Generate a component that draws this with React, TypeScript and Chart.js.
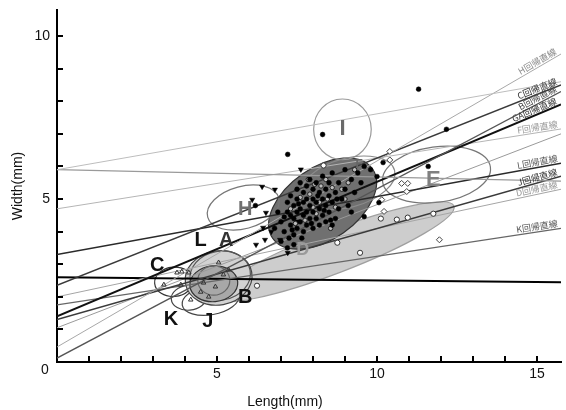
import React, { useEffect, useRef } from 'react';
import { Chart, registerables } from 'chart.js';
Chart.register(...registerables);

// ---- axes ----
const X_MAX = 15.75;
const Y_MAX = 10.8;
const xTickValues = [0, 1, 2, 3, 4, 5, 6, 7, 8, 9, 10, 11, 12, 13, 14, 15];
const yTickValues = [0, 1, 2, 3, 4, 5, 6, 7, 8, 9, 10];
const xLabelTicks = [5, 10, 15];
const yLabelTicks = [5, 10];
const xTitle = 'Length(mm)';
const yTitle = 'Width(mm)';

// ---- regression lines (y at x=0 and at x=X_MAX) ----
const lineNames = ['I', 'E', 'H', 'C', 'B', 'GA', 'F', 'L', 'J', 'D', 'K', 'A', 'M'];
const lineStartY = [5.9, 5.9, 0.46, 2.35, 0.12, 1.4, 4.7, 3.3, 1.3, 2.0, 1.75, 2.6, 1.05];
const lineEndY = [8.6, 5.55, 9.45, 8.5, 8.3, 7.9, 7.15, 6.1, 5.7, 5.3, 4.1, 2.45, 7.0];
const lineLabels = ['', '', 'H回帰直線', 'C回帰直線', 'B回帰直線', 'GA回帰直線', 'F回帰直線', 'L回帰直線', 'J回帰直線', 'D回帰直線', 'K回帰直線', '', ''];
// styles
const lineColors = ['#bdbdbd', '#9a9a9a', '#a8a8a8', '#3a3a3a', '#555555', '#111111', '#b5b5b5', '#2a2a2a', '#3a3a3a', '#a5a5a5', '#666666', '#000000', '#9a9a9a'];
const lineWidths = [1, 1.2, 1, 1.5, 1.3, 2, 1, 1.5, 1.5, 1, 1.2, 2, 1];
const lineLabelColors = ['', '', '#888', '#333', '#444', '#333', '#999', '#555', '#333', '#999', '#555', '', ''];

// ---- ellipses (data units) ----
const ellipseCx = [8.67, 8.3, 8.92, 9.1, 11.86, 5.82, 3.65, 4.12, 4.8, 5.05, 5.1, 4.9, 4.9];
const ellipseCy = [3.38, 4.86, 7.14, 5.5, 5.75, 4.74, 2.46, 1.97, 1.9, 2.58, 2.65, 2.4, 2.5];
const ellipseA = [4.0, 1.9, 0.9, 1.5, 1.7, 1.15, 0.6, 0.55, 0.9, 1.05, 0.95, 0.75, 0.5];
const ellipseB = [0.65, 1.1, 0.93, 0.75, 0.85, 0.65, 0.45, 0.38, 0.45, 0.83, 0.75, 0.55, 0.45];
const ellipseAngle = [21, 35, 0, 15, 8, 15, 5, 5, 10, 10, 10, 5, 0];
// styles
const ellipseFill = ['#cdcdcd', '#707070', '', '', '', '', '', '', '', '#d2d2d2', '', '#a8a8a8', ''];
const ellipseStroke = ['#a0a0a0', '#333333', '#9a9a9a', '#8a8a8a', '#777777', '#777777', '#333333', '#444444', '#444444', '#444444', '#555555', '#333333', '#666666'];

// ---- points ----
const groupG = [
  [7.0, 4.3], [7.1, 4.0], [7.2, 4.6], [7.2, 4.9], [7.3, 4.2], [7.3, 4.5], [7.3, 5.1], [7.4, 3.9], [7.4, 4.4],
  [7.4, 4.8], [7.5, 4.1], [7.5, 4.6], [7.5, 5.0], [7.5, 5.3], [7.6, 4.3], [7.6, 4.7], [7.6, 5.5], [7.7, 4.0],
  [7.7, 4.5], [7.7, 4.9], [7.7, 5.2], [7.8, 4.2], [7.8, 4.6], [7.8, 5.0], [7.8, 5.4], [7.9, 4.4], [7.9, 4.8],
  [7.9, 5.6], [8.0, 4.1], [8.0, 4.6], [8.0, 5.0], [8.0, 5.3], [8.1, 4.4], [8.1, 4.9], [8.1, 5.5], [8.2, 4.2],
  [8.2, 4.7], [8.2, 5.2], [8.3, 4.5], [8.3, 5.0], [8.3, 5.7], [8.4, 4.3], [8.4, 4.8], [8.4, 5.3], [8.5, 4.6],
  [8.5, 5.1], [8.5, 5.5], [8.6, 4.9], [8.6, 5.8], [8.7, 4.4], [8.7, 5.2], [8.8, 4.7], [8.8, 5.5], [8.9, 5.0],
  [9.0, 5.3], [9.0, 5.9], [9.1, 4.8], [9.2, 5.6], [9.3, 5.2], [9.4, 5.8], [9.5, 5.5], [9.6, 6.0], [9.2, 4.6],
  [7.0, 3.7], [7.2, 3.5], [7.4, 3.6], [6.9, 4.6], [6.8, 4.1], [8.6, 4.2], [9.8, 5.9], [7.1, 4.45], [7.35, 4.05],
  [7.55, 4.85], [7.65, 3.8], [7.95, 4.25], [8.15, 5.1], [8.35, 4.65], [8.55, 4.35], [8.75, 5.0], [7.25, 3.8],
  [11.3, 8.37], [12.17, 7.14], [7.21, 6.37], [8.3, 6.98], [10.19, 6.12], [11.6, 6.0], [10.0, 5.69], [9.6, 4.46],
  [10.06, 4.89], [6.2, 4.8]
];
const groupGOpen = [
  [7.6, 5.05], [7.9, 5.15], [8.1, 4.55], [8.25, 5.4], [8.45, 5.0], [8.6, 5.35], [8.0, 4.75], [7.75, 4.35],
  [8.4, 5.6], [8.9, 5.3], [7.45, 4.25], [8.7, 4.75], [9.1, 5.5], [7.85, 5.6], [8.2, 4.9], [9.3, 5.9],
  [7.3, 4.7], [8.55, 4.1], [9.0, 5.0], [8.05, 5.45]
];
const groupH = [
  [6.41, 5.38], [6.81, 5.29], [6.1, 4.98], [7.62, 5.91], [6.53, 4.58], [6.44, 4.12], [6.5, 3.75],
  [6.97, 3.75], [7.21, 3.35], [6.22, 3.6], [7.52, 4.31], [6.7, 4.0]
];
const groupD = [
  [8.76, 3.66], [9.47, 3.35], [10.12, 4.4], [10.62, 4.37], [10.96, 4.43], [11.76, 4.55], [6.25, 2.34],
  [8.33, 6.03]
];
const groupE = [
  [10.4, 6.46], [10.4, 6.2], [10.77, 5.48], [10.93, 5.23], [10.96, 5.48], [10.22, 4.62], [10.15, 4.98],
  [11.95, 3.75]
];
const groupA = [
  [5.05, 3.05], [3.75, 2.74], [3.9, 2.77], [4.12, 2.74], [3.34, 2.37], [3.87, 2.37], [4.58, 2.43],
  [4.95, 2.31], [4.49, 2.15], [4.18, 1.91], [4.74, 2.0], [5.2, 2.68], [5.36, 2.83]
];

// ---- group letters ----
const letterText = ['I', 'E', 'H', 'L', 'A', 'C', 'K', 'J', 'B', 'D', 'F'];
const letterX = [8.92, 11.76, 5.88, 4.49, 5.29, 3.13, 3.56, 4.71, 5.88, 7.68, 9.44];
const letterY = [7.14, 5.6, 4.68, 3.72, 3.72, 2.95, 1.29, 1.23, 1.97, 3.45, 6.06];
// styles
const letterColors = ['#6a6a6a', '#808080', '#707070', '#111', '#333', '#111', '#111', '#111', '#111', '#9a9a9a', '#666'];
const letterSizes = [22, 22, 20, 20, 20, 20, 20, 20, 20, 18, 12];

const FONT = '"Liberation Sans", Arial, sans-serif';

const toXY = (arr: number[][]) => arr.map(p => ({ x: p[0], y: p[1] }));

const ellipsePlugin = {
  id: 'ellipses',
  beforeDatasetsDraw(chart: any) {
    const { ctx, chartArea, scales } = chart;
    const x = scales.x, y = scales.y;
    ctx.save();
    ctx.beginPath();
    ctx.rect(chartArea.left, chartArea.top, chartArea.width, chartArea.height);
    ctx.clip();
    for (let i = 0; i < ellipseCx.length; i++) {
      const cx = x.getPixelForValue(ellipseCx[i]);
      const cy = y.getPixelForValue(ellipseCy[i]);
      const rx = Math.abs(x.getPixelForValue(ellipseCx[i] + ellipseA[i]) - cx);
      const ry = Math.abs(y.getPixelForValue(ellipseCy[i] + ellipseB[i]) - cy);
      ctx.beginPath();
      ctx.ellipse(cx, cy, rx, ry, -ellipseAngle[i] * Math.PI / 180, 0, Math.PI * 2);
      if (ellipseFill[i]) {
        ctx.fillStyle = ellipseFill[i];
        ctx.fill();
      }
      ctx.lineWidth = 1.2;
      ctx.strokeStyle = ellipseStroke[i];
      ctx.stroke();
    }
    ctx.restore();
  },
};

const annotPlugin = {
  id: 'annot',
  afterDatasetsDraw(chart: any) {
    const { ctx, scales } = chart;
    const x = scales.x, y = scales.y;
    ctx.save();
    ctx.textAlign = 'center';
    ctx.textBaseline = 'middle';
    for (let i = 0; i < letterText.length; i++) {
      ctx.font = `bold ${letterSizes[i]}px ${FONT}`;
      ctx.fillStyle = letterColors[i];
      ctx.fillText(letterText[i], x.getPixelForValue(letterX[i]), y.getPixelForValue(letterY[i]));
    }
    ctx.font = `9px "Noto Sans CJK JP", sans-serif`;
    for (let i = 0; i < lineNames.length; i++) {
      if (!lineLabels[i]) continue;
      const xe = X_MAX - 0.08;
      const ye = lineStartY[i] + (lineEndY[i] - lineStartY[i]) * xe / X_MAX;
      const px = x.getPixelForValue(xe), py = y.getPixelForValue(ye);
      const px0 = x.getPixelForValue(0), py0 = y.getPixelForValue(lineStartY[i]);
      const ang = Math.atan2(py - py0, px - px0);
      ctx.save();
      ctx.translate(px, py);
      ctx.rotate(ang);
      ctx.textAlign = 'right';
      ctx.textBaseline = 'bottom';
      ctx.fillStyle = lineLabelColors[i];
      ctx.fillText(lineLabels[i], 0, -1);
      ctx.restore();
    }
    // inward tick marks
    ctx.fillStyle = '#000000';
    const bottom = y.getPixelForValue(0);
    const left = x.getPixelForValue(0);
    xTickValues.forEach(v => {
      if (v === 0) return;
      const px = Math.round(x.getPixelForValue(v));
      ctx.fillRect(px - 1, bottom - 6, 2, 6);
    });
    yTickValues.forEach(v => {
      if (v === 0) return;
      const py = Math.round(y.getPixelForValue(v));
      ctx.fillRect(left, py - 1, 6, 2);
    });
    ctx.restore();
  },
  afterDraw(chart: any) {
    const { ctx, chartArea } = chart;
    ctx.save();
    ctx.fillStyle = '#111';
    ctx.font = `14px ${FONT}`;
    ctx.textAlign = 'center';
    ctx.textBaseline = 'middle';
    ctx.fillText('0', chartArea.left - 12, chartArea.bottom + 8);
    ctx.fillText(xTitle, 285, chartArea.bottom + 40);
    ctx.restore();
  },
};

export default function App() {
  const ref = useRef<HTMLCanvasElement>(null);
  useEffect(() => {
    if (!ref.current) return;
    const lineSets = lineNames.map((n, i) => ({
      type: 'line' as const,
      label: n,
      data: [{ x: 0, y: lineStartY[i] }, { x: X_MAX, y: lineEndY[i] }],
      showLine: true,
      pointRadius: 0,
      borderColor: lineColors[i],
      borderWidth: lineWidths[i],
      fill: false,
      order: 5,
    }));
    const pointSets = [
      { label: 'G', data: toXY(groupG), pointStyle: 'circle', pointRadius: 2.4, backgroundColor: '#000', borderColor: '#000', borderWidth: 0.5, rotation: 0 },
      { label: 'Gopen', data: toXY(groupGOpen), pointStyle: 'circle', pointRadius: 2.2, backgroundColor: '#bbb', borderColor: '#222', borderWidth: 1, rotation: 0 },
      { label: 'Hpts', data: toXY(groupH), pointStyle: 'triangle', pointRadius: 3, backgroundColor: '#000', borderColor: '#000', borderWidth: 0.5, rotation: 180 },
      { label: 'Dpts', data: toXY(groupD), pointStyle: 'circle', pointRadius: 2.6, backgroundColor: '#fff', borderColor: '#333', borderWidth: 1, rotation: 0 },
      { label: 'Epts', data: toXY(groupE), pointStyle: 'rectRot', pointRadius: 3, backgroundColor: '#fff', borderColor: '#444', borderWidth: 1, rotation: 0 },
      { label: 'Apts', data: toXY(groupA), pointStyle: 'triangle', pointRadius: 2.6, backgroundColor: 'rgba(0,0,0,0)', borderColor: '#333', borderWidth: 1, rotation: 0 },
    ].map(d => ({ ...d, type: 'scatter' as const, showLine: false, order: 1 }));

    const chart = new Chart(ref.current, {
      type: 'scatter',
      data: { datasets: [...pointSets, ...lineSets] as any },
      options: {
        animation: false,
        responsive: false,
        layout: { padding: { top: 10, right: 0, left: 0, bottom: 0 } },
        plugins: { legend: { display: false }, tooltip: { enabled: false } },
        scales: {
          x: {
            type: 'linear',
            min: 0,
            max: X_MAX,
            afterBuildTicks: (s: any) => { s.ticks = xTickValues.map(v => ({ value: v })); },
            afterFit: (s: any) => { s.height = 48; s.paddingLeft = 0; s.paddingRight = 0; },
            ticks: {
              autoSkip: false,
              maxRotation: 0,
              padding: 4,
              color: '#111',
              font: { size: 14, family: FONT },
              callback: (v: any) => (xLabelTicks.includes(Number(v)) ? String(v) : ''),
            },
            grid: { display: false, drawTicks: false },
            border: { display: true, color: '#000', width: 2 },
            title: { display: false, text: xTitle },
          },
          y: {
            type: 'linear',
            min: 0,
            max: Y_MAX,
            afterBuildTicks: (s: any) => { s.ticks = yTickValues.map(v => ({ value: v })); },
            afterFit: (s: any) => { s.width = 57; s.paddingTop = 0; s.paddingBottom = 0; },
            ticks: {
              autoSkip: false,
              padding: 7,
              color: '#111',
              font: { size: 14, family: FONT },
              callback: (v: any) => (yLabelTicks.includes(Number(v)) ? String(v) : ''),
            },
            grid: { display: false, drawTicks: false },
            border: { display: true, color: '#000', width: 2 },
            title: { display: true, text: yTitle, color: '#111', font: { size: 14, family: FONT }, padding: { top: 10, bottom: 0 } },
          },
        },
      } as any,
      plugins: [ellipsePlugin, annotPlugin],
    });
    return () => chart.destroy();
  }, []);
  return (
    <div style={{ position: 'fixed', left: 0, top: 0, width: 566, height: 410, background: '#fff' }}>
      <canvas ref={ref} width={566} height={410} style={{ display: 'block' }} />
    </div>
  );
}
